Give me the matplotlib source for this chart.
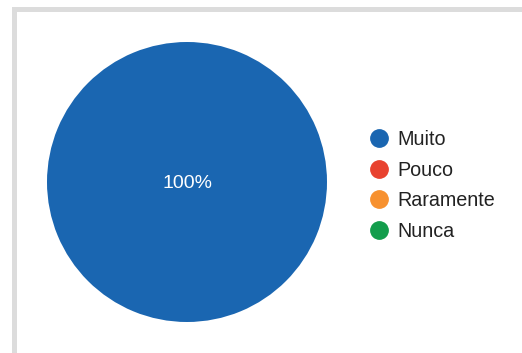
import matplotlib.pyplot as plt
from matplotlib.lines import Line2D
from matplotlib.patches import Rectangle

labels = ['Muito', 'Pouco', 'Raramente', 'Nunca']
values = [100, 0, 0, 0]
colors = ['#1a66b1', '#e8422f', '#f7912f', '#139d4c']

W, H = 522, 353
plt.rcParams['font.family'] = ['Liberation Sans', 'DejaVu Sans']

fig = plt.figure(figsize=(W / 100, H / 100), dpi=100, facecolor='white')

# light gray frame on the left and top edges
fig.patches.append(Rectangle((12 / W, 0), 4.5 / W, (H - 7) / H,
                             transform=fig.transFigure, color='#dcdcdc', lw=0))
fig.patches.append(Rectangle((12 / W, (H - 12) / H), (W - 12) / W, 5 / H,
                             transform=fig.transFigure, color='#dcdcdc', lw=0))

# pie: centre (187, 182), radius 140 px
cx, cy, r = 187, 182, 140
ax = fig.add_axes([(cx - r) / W, (H - cy - r) / H, 2 * r / W, 2 * r / H])


def pct(p):
    return '%d%%' % round(p) if p > 0 else ''


wedges, texts, autotexts = ax.pie(values, colors=colors, startangle=90,
                                  counterclock=False, autopct=pct,
                                  pctdistance=0.0,
                                  wedgeprops=dict(linewidth=0),
                                  textprops=dict(color='white', fontsize=14))
autotexts[0].set_y(-0.012)
ax.set_xlim(-1, 1)
ax.set_ylim(-1, 1)
ax.set_aspect('equal')
ax.axis('off')

handles = [Line2D([], [], marker='o', linestyle='', markersize=12.5,
                  color=c, label=l) for c, l in zip(colors, labels)]
fig.legend(handles=handles, loc='upper left',
           bbox_to_anchor=(369.6 / W, 1 - 130 / H), frameon=False,
           fontsize=14.2, labelcolor='#222222', handlelength=1.0,
           handletextpad=0.39, labelspacing=0.59, borderpad=0,
           borderaxespad=0)

fig.savefig('out.png', dpi=100, facecolor='white')
